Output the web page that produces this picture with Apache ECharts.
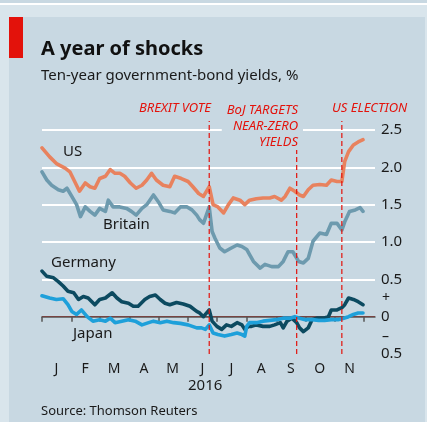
<!DOCTYPE html>
<html>
<head>
<meta charset="utf-8">
<script src="https://cdn.jsdelivr.net/npm/echarts@6/dist/echarts.min.js"></script>
<style>
  html, body { margin: 0; padding: 0; background: #d9e5ec; }
  #chart { width: 427px; height: 422px; }
</style>
</head>
<body>
<div id="chart"></div>
<script>
// ten-year government-bond yields, %
const usDates = ['2016-01-01','2016-01-09','2016-01-16','2016-01-25','2016-01-30','2016-02-04','2016-02-09','2016-02-15','2016-02-20','2016-02-25','2016-03-01','2016-03-07','2016-03-12','2016-03-17','2016-03-22','2016-03-27','2016-04-02','2016-04-08','2016-04-14','2016-04-19','2016-04-24','2016-04-29','2016-05-06','2016-05-13','2016-05-18','2016-05-25','2016-06-01','2016-06-06','2016-06-12','2016-06-17','2016-06-23','2016-06-27','2016-07-02','2016-07-08','2016-07-13','2016-07-18','2016-07-25','2016-07-30','2016-08-04','2016-08-11','2016-08-18','2016-08-25','2016-08-30','2016-09-06','2016-09-10','2016-09-15','2016-09-20','2016-09-25','2016-09-29','2016-10-04','2016-10-09','2016-10-16','2016-10-23','2016-10-28','2016-11-03','2016-11-08','2016-11-11','2016-11-15','2016-11-20','2016-11-25','2016-11-30'];
const usValues = [2.26,2.14,2.05,1.99,1.94,1.81,1.68,1.79,1.74,1.72,1.85,1.88,1.97,1.92,1.92,1.88,1.79,1.72,1.76,1.83,1.92,1.83,1.76,1.74,1.88,1.85,1.81,1.74,1.65,1.61,1.74,1.50,1.47,1.39,1.50,1.59,1.56,1.50,1.56,1.58,1.59,1.59,1.61,1.56,1.61,1.72,1.68,1.63,1.61,1.70,1.76,1.77,1.76,1.83,1.81,1.81,2.08,2.21,2.30,2.34,2.37];

const ukDates = ['2016-01-01','2016-01-06','2016-01-11','2016-01-18','2016-01-23','2016-01-27','2016-02-01','2016-02-06','2016-02-10','2016-02-15','2016-02-20','2016-02-25','2016-03-01','2016-03-07','2016-03-10','2016-03-15','2016-03-22','2016-03-29','2016-04-03','2016-04-08','2016-04-14','2016-04-19','2016-04-26','2016-05-01','2016-05-06','2016-05-13','2016-05-18','2016-05-24','2016-05-31','2016-06-05','2016-06-10','2016-06-13','2016-06-17','2016-06-23','2016-06-26','2016-06-29','2016-07-04','2016-07-09','2016-07-16','2016-07-22','2016-07-27','2016-08-01','2016-08-04','2016-08-08','2016-08-15','2016-08-20','2016-08-27','2016-09-03','2016-09-08','2016-09-13','2016-09-18','2016-09-24','2016-09-29','2016-10-04','2016-10-09','2016-10-16','2016-10-23','2016-10-28','2016-11-03','2016-11-08','2016-11-11','2016-11-16','2016-11-22','2016-11-27','2016-11-30'];
const ukValues = [1.94,1.83,1.76,1.70,1.68,1.72,1.61,1.50,1.34,1.47,1.41,1.36,1.45,1.41,1.56,1.47,1.47,1.45,1.41,1.36,1.45,1.50,1.63,1.54,1.43,1.41,1.39,1.47,1.47,1.43,1.36,1.30,1.25,1.47,1.14,1.05,0.92,0.87,0.92,0.96,0.94,0.90,0.83,0.74,0.65,0.70,0.67,0.67,0.74,0.87,0.87,0.74,0.72,0.78,1.01,1.12,1.10,1.25,1.25,1.16,1.27,1.41,1.43,1.46,1.41];

const deDates = ['2016-01-01','2016-01-06','2016-01-13','2016-01-18','2016-01-23','2016-01-28','2016-02-03','2016-02-08','2016-02-13','2016-02-18','2016-02-25','2016-03-01','2016-03-07','2016-03-14','2016-03-19','2016-03-24','2016-03-31','2016-04-05','2016-04-10','2016-04-17','2016-04-22','2016-04-28','2016-05-03','2016-05-08','2016-05-13','2016-05-20','2016-05-27','2016-06-03','2016-06-10','2016-06-13','2016-06-17','2016-06-23','2016-06-26','2016-07-01','2016-07-06','2016-07-11','2016-07-16','2016-07-22','2016-07-27','2016-07-30','2016-08-03','2016-08-06','2016-08-11','2016-08-18','2016-08-25','2016-08-30','2016-09-05','2016-09-08','2016-09-12','2016-09-17','2016-09-22','2016-09-25','2016-09-29','2016-10-04','2016-10-08','2016-10-13','2016-10-20','2016-10-25','2016-10-28','2016-11-03','2016-11-08','2016-11-11','2016-11-15','2016-11-20','2016-11-25','2016-11-30'];
const deValues = [0.61,0.54,0.52,0.47,0.41,0.34,0.32,0.23,0.27,0.25,0.16,0.23,0.25,0.32,0.25,0.20,0.18,0.14,0.14,0.23,0.27,0.29,0.23,0.18,0.16,0.19,0.17,0.14,0.07,0.05,0.00,0.09,-0.06,-0.13,-0.17,-0.11,-0.13,-0.08,-0.11,-0.17,-0.13,-0.13,-0.11,-0.13,-0.13,-0.11,-0.08,-0.15,-0.06,-0.02,-0.08,-0.15,-0.20,-0.15,-0.04,-0.02,-0.02,0.00,0.09,0.09,0.12,0.16,0.25,0.23,0.20,0.16];

const jpDates = ['2016-01-01','2016-01-09','2016-01-16','2016-01-23','2016-01-28','2016-02-01','2016-02-06','2016-02-11','2016-02-17','2016-02-23','2016-03-01','2016-03-07','2016-03-12','2016-03-17','2016-03-24','2016-03-31','2016-04-07','2016-04-14','2016-04-21','2016-04-26','2016-05-03','2016-05-10','2016-05-17','2016-05-24','2016-06-01','2016-06-10','2016-06-15','2016-06-19','2016-06-23','2016-06-27','2016-07-02','2016-07-09','2016-07-16','2016-07-22','2016-07-27','2016-07-30','2016-08-01','2016-08-04','2016-08-11','2016-08-18','2016-08-25','2016-09-01','2016-09-08','2016-09-15','2016-09-20','2016-09-25','2016-10-01','2016-10-08','2016-10-15','2016-10-21','2016-10-28','2016-11-04','2016-11-10','2016-11-15','2016-11-20','2016-11-25','2016-11-30'];
const jpValues = [0.28,0.25,0.23,0.24,0.16,0.07,0.03,0.09,0.00,-0.06,-0.04,-0.06,-0.02,-0.08,-0.06,-0.04,-0.06,-0.11,-0.08,-0.06,-0.08,-0.06,-0.08,-0.09,-0.11,-0.15,-0.15,-0.17,-0.11,-0.22,-0.24,-0.26,-0.24,-0.22,-0.24,-0.26,-0.13,-0.08,-0.08,-0.06,-0.05,-0.04,-0.02,-0.02,0.00,-0.02,-0.04,-0.04,-0.05,-0.05,-0.04,-0.04,-0.02,0.00,0.03,0.05,0.05];

// events marked with dashed lines
const eventDates = ['2016-06-23', '2016-09-22', '2016-11-08'];
const eventLabels = ['BREXIT VOTE', 'BoJ TARGETS\nNEAR-ZERO\nYIELDS', 'US ELECTION'];

// axis ticks
const monthStarts = ['2016-01-01','2016-02-01','2016-03-01','2016-04-01','2016-05-01','2016-06-01','2016-07-01','2016-08-01','2016-09-01','2016-10-01','2016-11-01','2016-12-01'];
const monthMids = ['2016-01-16','2016-02-15','2016-03-16','2016-04-16','2016-05-16','2016-06-16','2016-07-16','2016-08-16','2016-09-16','2016-10-16','2016-11-16'];
const monthLetters = ['J','F','M','A','M','J','J','A','S','O','N'];
const yTicks = [-0.5, 0, 0.5, 1.0, 1.5, 2.0, 2.5];

const RED = '#e3120b';
const PANEL = '#c8d8e2';
const FONT = 'Noto Sans';
const NOTE_FONT = 'italic 13px "Noto Sans"';

const ts = d => Date.parse(d + 'T00:00:00Z');
const pairs = (dates, vals) => dates.map((d, i) => [ts(d), vals[i]]);
const midTs = monthMids.map(ts);

const chart = echarts.init(document.getElementById('chart'));

const lineSeries = (name, dates, vals, color) => ({
  name: name,
  type: 'line',
  data: pairs(dates, vals),
  symbol: 'none',
  lineStyle: { color: color, width: 3.6, join: 'round', cap: 'round' },
  silent: true,
  z: 3
});

const option = {
  backgroundColor: '#d9e5ec',
  animation: false,
  grid: { left: 42, right: 52, top: 130, bottom: 68 },
  xAxis: {
    type: 'value',
    min: ts('2016-01-01'),
    max: ts('2016-12-12') + 12 * 3600 * 1000,
    axisLine: { show: true, lineStyle: { color: '#555', width: 1.5 } },
    axisTick: {
      show: true,
      customValues: monthStarts.map(ts),
      length: 5,
      lineStyle: { color: '#555', width: 1.5 }
    },
    axisLabel: {
      customValues: midTs,
      formatter: v => monthLetters[midTs.indexOf(v)] || '',
      color: '#1a1a1a',
      fontFamily: FONT,
      fontSize: 14,
      margin: 8
    },
    splitLine: { show: false }
  },
  yAxis: [{
    type: 'value',
    position: 'right',
    min: -0.5,
    max: 2.5,
    interval: 0.5,
    axisLine: { show: false },
    axisTick: { show: false },
    axisLabel: {
      customValues: yTicks,
      formatter: v => v === 0 ? '0' : Math.abs(v).toFixed(1),
      color: '#1a1a1a',
      fontFamily: FONT,
      fontSize: 15,
      margin: 6
    },
    splitLine: {
      lineStyle: {
        color: ['rgba(0,0,0,0)', 'rgba(0,0,0,0)', '#fff', '#fff', '#fff', '#fff', '#fff'],
        width: 2
      }
    }
  }, {
    // red zero line
    type: 'value',
    position: 'right',
    min: -0.5,
    max: 2.5,
    interval: 0.5,
    axisLine: { show: false },
    axisTick: { show: false },
    axisLabel: { show: false },
    splitLine: {
      lineStyle: {
        color: ['rgba(0,0,0,0)', RED, 'rgba(0,0,0,0)', 'rgba(0,0,0,0)', 'rgba(0,0,0,0)', 'rgba(0,0,0,0)', 'rgba(0,0,0,0)'],
        width: 1.2
      }
    }
  }],
  series: [
    lineSeries('Britain', ukDates, ukValues, '#6d9aae'),
    lineSeries('US', usDates, usValues, '#e8825e'),
    lineSeries('Germany', deDates, deValues, '#0c4a60'),
    lineSeries('Japan', jpDates, jpValues, '#1ea0da'),
    {
      // dashed event lines
      type: 'custom',
      silent: true,
      z: 4,
      data: eventDates.map((d, i) => [ts(d), i]),
      renderItem: (params, api) => {
        const x = api.value(0);
        const i = api.value(1);
        const lines = eventLabels[i].split('\n').length;
        const bottom = api.coord([x, -0.5]);
        const topY = params.coordSys.y - 9 + (lines - 1) * 13.5;
        return {
          type: 'line',
          shape: { x1: bottom[0], y1: bottom[1], x2: bottom[0], y2: topY },
          style: { stroke: RED, lineWidth: 1.2, lineDash: [5, 3] }
        };
      }
    }
  ],
  graphic: [
    { type: 'rect', left: 0, top: 0, shape: { width: 427, height: 3 }, style: { fill: PANEL }, z: 0 },
    { type: 'rect', left: 0, top: 3, shape: { width: 427, height: 2 }, style: { fill: '#ffffff' }, z: 0 },
    { type: 'rect', left: 9, top: 17, shape: { width: 416, height: 405 }, style: { fill: PANEL }, z: -10 },
    { type: 'rect', left: 9, top: 17, shape: { width: 14, height: 41 }, style: { fill: RED }, z: 5 },
    { type: 'text', left: 41, top: 39, style: { text: 'A year of shocks', font: 'bold 20px "Noto Sans"', fill: '#111' } },
    { type: 'text', left: 41, top: 68, style: { text: 'Ten-year government-bond yields, %', font: '15px "Noto Sans"', fill: '#1a1a1a' } },
    // event notes
    { type: 'text', x: 211, y: 102, style: { text: eventLabels[0], font: NOTE_FONT, fill: RED, align: 'right' }, z: 50 },
    { type: 'text', x: 303, y: 102, style: { text: eventLabels[1], font: NOTE_FONT, fill: RED, align: 'right', lineHeight: 16, backgroundColor: PANEL, padding: [0, 5, 0, 5] }, z: 50 },
    { type: 'text', x: 332, y: 102, style: { text: eventLabels[2], font: NOTE_FONT, fill: RED }, z: 50 },
    // series names
    { type: 'text', left: 63, top: 144, style: { text: 'US', font: '15px "Noto Sans"', fill: '#1a1a1a' }, z: 50 },
    { type: 'text', left: 103, top: 217, style: { text: 'Britain', font: '15px "Noto Sans"', fill: '#1a1a1a' }, z: 50 },
    { type: 'text', left: 51, top: 255, style: { text: 'Germany', font: '15px "Noto Sans"', fill: '#1a1a1a' }, z: 50 },
    { type: 'text', left: 73, top: 326, style: { text: 'Japan', font: '15px "Noto Sans"', fill: '#1a1a1a' }, z: 50 },
    // sign markers on the y axis
    { type: 'text', left: 382, top: 291, style: { text: '+', font: '14px "Noto Sans"', fill: '#1a1a1a' }, z: 50 },
    { type: 'text', left: 382, top: 330, style: { text: '–', font: '14px "Noto Sans"', fill: '#1a1a1a' }, z: 50 },
    { type: 'text', left: 188, top: 378, style: { text: '2016', font: '15px "Noto Sans"', fill: '#1a1a1a' }, z: 50 },
    { type: 'text', left: 41, top: 405, style: { text: 'Source: Thomson Reuters', font: '13px "Noto Sans"', fill: '#1a1a1a' }, z: 50 }
  ]
};

chart.setOption(option);
</script>
</body>
</html>
